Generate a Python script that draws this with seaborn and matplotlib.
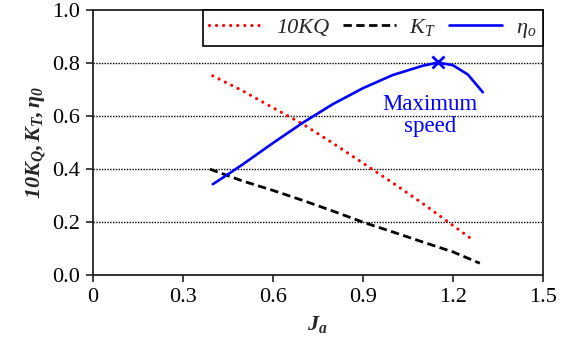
import matplotlib
matplotlib.use("Agg")
import matplotlib.pyplot as plt
import seaborn as sns
import pandas as pd

# Data
j_kq = [0.40, 0.50, 0.60, 0.70, 0.80, 0.90, 1.00, 1.10, 1.20, 1.27]
kq10 = [0.752, 0.695, 0.632, 0.570, 0.498, 0.423, 0.348, 0.270, 0.188, 0.130]

j_kt = [0.39, 0.50, 0.60, 0.70, 0.80, 0.90, 1.00, 1.10, 1.20, 1.29]
kt = [0.400, 0.355, 0.320, 0.282, 0.242, 0.200, 0.163, 0.125, 0.088, 0.045]

j_eta = [0.40, 0.45, 0.50, 0.60, 0.70, 0.80, 0.90, 1.00, 1.10, 1.15, 1.20, 1.25, 1.30]
eta = [0.343, 0.380, 0.418, 0.498, 0.575, 0.645, 0.705, 0.755, 0.790, 0.802, 0.792, 0.757, 0.690]

max_j = [1.15]
max_eta = [0.803]

x_ticks = [0, 0.3, 0.6, 0.9, 1.2, 1.5]
x_tick_labels = ["0", "0.3", "0.6", "0.9", "1.2", "1.5"]
y_ticks = [0.0, 0.2, 0.4, 0.6, 0.8, 1.0]
y_tick_labels = ["0.0", "0.2", "0.4", "0.6", "0.8", "1.0"]

sns.set_style("ticks")
plt.rcParams["font.family"] = ["Liberation Serif", "DejaVu Serif"]
plt.rcParams["mathtext.fontset"] = "custom"
plt.rcParams["mathtext.rm"] = "Liberation Serif"
plt.rcParams["mathtext.it"] = "Liberation Serif:italic"
plt.rcParams["mathtext.bf"] = "Liberation Serif:bold:italic"

fig, ax = plt.subplots(figsize=(5.69, 3.47), dpi=100)
fig.subplots_adjust(left=0.163, right=0.954, top=0.971, bottom=0.207)

df_kq = pd.DataFrame({"J": j_kq, "v": kq10})
df_kt = pd.DataFrame({"J": j_kt, "v": kt})
df_eta = pd.DataFrame({"J": j_eta, "v": eta})

sns.lineplot(data=df_kq, x="J", y="v", ax=ax, color="#ff0000", lw=2.3,
             linestyle=(0, (0.01, 2.2)), dash_capstyle="round",
             label="10KQ")
sns.lineplot(data=df_kt, x="J", y="v", ax=ax, color="black", lw=2.0,
             linestyle=(0, (3.0, 1.6)), label=r"$K_T$")
sns.lineplot(data=df_eta, x="J", y="v", ax=ax, color="#0000ff", lw=1.9,
             linestyle="-", label=r"$\eta_o$")
ax.plot(max_j, max_eta, marker="x", color="#0000ff", markersize=9,
        markeredgewidth=2, linestyle="none")

ax.text(1.123, 0.601, "Maximum\nspeed", color="#0000ff", fontsize=16.5,
        ha="center", va="center", linespacing=1.05)

ax.set_xlim(0, 1.5)
ax.set_ylim(0, 1.0)
ax.set_xticks(x_ticks)
ax.set_xticklabels(x_tick_labels)
ax.set_yticks(y_ticks)
ax.set_yticklabels(y_tick_labels)
ax.tick_params(direction="out", length=5, width=1.2, labelsize=16,
               colors="#222222", labelcolor="black", pad=4)

for g in [0.2, 0.4, 0.6, 0.8]:
    ax.axhline(g, color="black", lw=1.0, linestyle=(0, (1, 1)), zorder=0)

for s in ax.spines.values():
    s.set_visible(True)
    s.set_linewidth(1.3)
    s.set_color("#222222")

ax.set_xlabel(r"$\mathbf{J_a}$", fontsize=16, labelpad=5)
ax.set_ylabel(r"$\mathbf{10K_Q, K_T, \eta_0}$", fontsize=16, labelpad=3)

leg = ax.legend(loc="upper right", ncol=3, frameon=True, fancybox=False,
                borderaxespad=0, handlelength=2.4,
                columnspacing=0.6, handletextpad=0.6,
                borderpad=0.3, prop={"style": "italic", "size": 16})
leg.get_frame().set_edgecolor("black")
leg.get_frame().set_linewidth(1.2)
leg.get_frame().set_alpha(1)

fig.savefig("out.png", dpi=100)
